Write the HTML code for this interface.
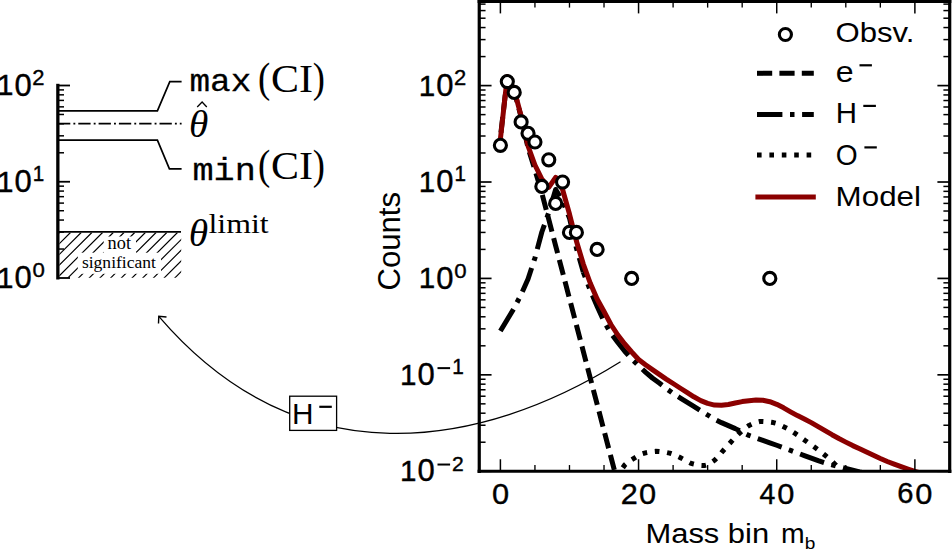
<!DOCTYPE html>
<html><head><meta charset="utf-8"><style>
html,body{margin:0;padding:0;background:#fff;overflow:hidden;}
svg{display:block;}
</style></head><body>
<svg width="952" height="550" viewBox="0 0 952 550">
<rect width="952" height="550" fill="#fff"/>
<line x1="57.85" y1="83.80" x2="57.85" y2="279.50" stroke="#000" stroke-width="3.3"/>
<line x1="57.85" y1="278.00" x2="70.00" y2="278.00" stroke="#000" stroke-width="1.8"/>
<line x1="57.85" y1="181.75" x2="70.00" y2="181.75" stroke="#000" stroke-width="1.8"/>
<line x1="57.85" y1="85.50" x2="70.00" y2="85.50" stroke="#000" stroke-width="1.8"/>
<line x1="57.85" y1="249.03" x2="64.00" y2="249.03" stroke="#000" stroke-width="1.5"/>
<line x1="57.85" y1="232.08" x2="64.00" y2="232.08" stroke="#000" stroke-width="1.5"/>
<line x1="57.85" y1="220.05" x2="64.00" y2="220.05" stroke="#000" stroke-width="1.5"/>
<line x1="57.85" y1="210.72" x2="64.00" y2="210.72" stroke="#000" stroke-width="1.5"/>
<line x1="57.85" y1="203.10" x2="64.00" y2="203.10" stroke="#000" stroke-width="1.5"/>
<line x1="57.85" y1="196.66" x2="64.00" y2="196.66" stroke="#000" stroke-width="1.5"/>
<line x1="57.85" y1="191.08" x2="64.00" y2="191.08" stroke="#000" stroke-width="1.5"/>
<line x1="57.85" y1="186.15" x2="64.00" y2="186.15" stroke="#000" stroke-width="1.5"/>
<line x1="57.85" y1="152.78" x2="64.00" y2="152.78" stroke="#000" stroke-width="1.5"/>
<line x1="57.85" y1="135.83" x2="64.00" y2="135.83" stroke="#000" stroke-width="1.5"/>
<line x1="57.85" y1="123.80" x2="64.00" y2="123.80" stroke="#000" stroke-width="1.5"/>
<line x1="57.85" y1="114.47" x2="64.00" y2="114.47" stroke="#000" stroke-width="1.5"/>
<line x1="57.85" y1="106.85" x2="64.00" y2="106.85" stroke="#000" stroke-width="1.5"/>
<line x1="57.85" y1="100.41" x2="64.00" y2="100.41" stroke="#000" stroke-width="1.5"/>
<line x1="57.85" y1="94.83" x2="64.00" y2="94.83" stroke="#000" stroke-width="1.5"/>
<line x1="57.85" y1="89.90" x2="64.00" y2="89.90" stroke="#000" stroke-width="1.5"/>
<path d="M57.60,110.90 L157.40,110.90 L169.80,81.60 L181.60,81.60" fill="none" stroke="#000" stroke-width="1.7" stroke-linecap="butt" stroke-linejoin="miter"/>
<path d="M57.60,140.20 L157.40,140.20 L169.40,168.90 L181.60,168.90" fill="none" stroke="#000" stroke-width="1.7" stroke-linecap="butt" stroke-linejoin="miter"/>
<path d="M58.00,123.70 L181.60,123.70" fill="none" stroke="#000" stroke-width="1.7" stroke-linecap="butt" stroke-linejoin="round" stroke-dasharray="12.3,3.1,1.9,3.0"/>
<clipPath id="hclip"><rect x="59.4" y="232.4" width="121.8" height="45.4"/></clipPath>
<path d="M49.10,232.5 L-10.90,292.50 M59.80,232.5 L-0.20,292.50 M70.50,232.5 L10.50,292.50 M81.20,232.5 L21.20,292.50 M91.90,232.5 L31.90,292.50 M102.60,232.5 L42.60,292.50 M113.30,232.5 L53.30,292.50 M124.00,232.5 L64.00,292.50 M134.70,232.5 L74.70,292.50 M145.40,232.5 L85.40,292.50 M156.10,232.5 L96.10,292.50 M166.80,232.5 L106.80,292.50 M177.50,232.5 L117.50,292.50 M188.20,232.5 L128.20,292.50 M198.90,232.5 L138.90,292.50 M209.60,232.5 L149.60,292.50 M220.30,232.5 L160.30,292.50 M231.00,232.5 L171.00,292.50 M241.70,232.5 L181.70,292.50 M252.40,232.5 L192.40,292.50 M263.10,232.5 L203.10,292.50 M273.80,232.5 L213.80,292.50 M284.50,232.5 L224.50,292.50 M295.20,232.5 L235.20,292.50 M305.90,232.5 L245.90,292.50 M316.60,232.5 L256.60,292.50 M327.30,232.5 L267.30,292.50 M338.00,232.5 L278.00,292.50 M348.70,232.5 L288.70,292.50 M359.40,232.5 L299.40,292.50 M370.10,232.5 L310.10,292.50 M380.80,232.5 L320.80,292.50" stroke="#000" stroke-width="1.15" clip-path="url(#hclip)"/>
<rect x="103.7" y="236.5" width="32.3" height="17" fill="#fff"/>
<rect x="77.8" y="252.7" width="83.2" height="21.1" fill="#fff"/>
<line x1="57.85" y1="231.80" x2="181.00" y2="231.80" stroke="#000" stroke-width="1.8"/>
<text transform="translate(107.59,249.42) scale(1.0032,1)" font-family="Liberation Serif" font-size="18.26" fill="#000">not</text>
<text transform="translate(81.90,267.99) scale(1.0768,1)" font-family="Liberation Serif" font-size="16.30" fill="#000">significant</text>
<text transform="translate(-2.97,95.40) scale(0.9829,1)" font-family="Liberation Sans" font-size="30.11" fill="#000" stroke="#000" stroke-width="0.407">1</text>
<text transform="translate(14.61,95.59) scale(1.0105,1)" font-family="Liberation Sans" font-size="30.67" fill="#000" stroke="#000" stroke-width="0.396">0</text>
<text transform="translate(32.25,84.80) scale(1.0358,1)" font-family="Liberation Sans" font-size="21.22" fill="#000" stroke="#000" stroke-width="0.386">2</text>
<text transform="translate(-2.97,191.65) scale(0.9829,1)" font-family="Liberation Sans" font-size="30.11" fill="#000" stroke="#000" stroke-width="0.407">1</text>
<text transform="translate(14.61,191.84) scale(1.0105,1)" font-family="Liberation Sans" font-size="30.67" fill="#000" stroke="#000" stroke-width="0.396">0</text>
<text transform="translate(32.81,180.85) scale(0.9624,1)" font-family="Liberation Sans" font-size="21.38" fill="#000" stroke="#000" stroke-width="0.416">1</text>
<text transform="translate(-2.97,287.90) scale(0.9829,1)" font-family="Liberation Sans" font-size="30.11" fill="#000" stroke="#000" stroke-width="0.407">1</text>
<text transform="translate(14.61,288.09) scale(1.0105,1)" font-family="Liberation Sans" font-size="30.67" fill="#000" stroke="#000" stroke-width="0.396">0</text>
<text transform="translate(32.46,277.34) scale(1.0541,1)" font-family="Liberation Sans" font-size="21.06" fill="#000" stroke="#000" stroke-width="0.379">0</text>
<text transform="translate(189.47,90.58) scale(1.0692,1)" font-family="Liberation Mono" font-size="32.15" fill="#000" stroke="#000" stroke-width="0.281">max</text>
<text transform="translate(257.94,91.78) scale(0.8780,1)" font-family="Liberation Serif" font-size="41.98" fill="#000">(</text>
<text transform="translate(270.92,91.60) scale(1.0565,1)" font-family="Liberation Serif" font-size="39.70" fill="#000">CI</text>
<text transform="translate(312.81,91.78) scale(0.8695,1)" font-family="Liberation Serif" font-size="41.98" fill="#000">)</text>
<text transform="translate(192.43,179.50) scale(1.1017,1)" font-family="Liberation Mono" font-size="32.00" fill="#000" stroke="#000" stroke-width="0.272">min</text>
<text transform="translate(257.94,179.33) scale(0.8827,1)" font-family="Liberation Serif" font-size="41.76" fill="#000">(</text>
<text transform="translate(270.92,179.10) scale(1.0565,1)" font-family="Liberation Serif" font-size="39.70" fill="#000">CI</text>
<text transform="translate(312.81,179.33) scale(0.8741,1)" font-family="Liberation Serif" font-size="41.76" fill="#000">)</text>
<text transform="translate(188.94,137.32) scale(1.0254,1)" font-family="Liberation Serif" font-size="38.31" font-style="italic" fill="#000">θ</text>
<path d="M197.20,107.00 L202.10,102.00 L206.80,107.00" fill="none" stroke="#000" stroke-width="1.3" stroke-linecap="butt" stroke-linejoin="miter"/>
<text transform="translate(188.72,246.22) scale(1.0316,1)" font-family="Liberation Serif" font-size="38.31" font-style="italic" fill="#000">θ</text>
<text transform="translate(208.46,232.93) scale(1.1715,1)" font-family="Liberation Serif" font-size="27.23" fill="#000">limit</text>
<clipPath id="ax"><rect x="479.25" y="1.4" width="470.45000000000005" height="469.85"/></clipPath>
<g clip-path="url(#ax)">
<path d="M500.40,137.50 L507.31,77.00 L514.22,91.00 L521.12,117.00 L528.03,147.70 L534.94,170.00 L541.85,193.00 L548.76,219.40 L555.66,245.80 L562.57,272.20 L569.48,298.60 L576.39,325.00 L583.30,351.40 L590.20,377.80 L597.11,404.20 L604.02,430.60 L610.93,457.00 L617.84,483.40 L624.74,509.80" fill="none" stroke="#000" stroke-width="5.0" stroke-linecap="butt" stroke-linejoin="round" stroke-dasharray="15.6,6.8" stroke-dashoffset="17.52"/>
<path d="M500.40,331.00 L507.31,319.50 L514.22,308.00 L521.12,294.50 L528.03,279.00 L534.94,258.00 L541.85,232.00 L548.76,212.50 L555.66,189.50 L562.57,201.00 L569.48,218.00 L576.39,248.00 L583.30,272.00" fill="none" stroke="#000" stroke-width="5.0" stroke-linecap="butt" stroke-linejoin="round" stroke-dasharray="25.4,7.6,4.5,7.6"/>
<path d="M583.30,272.00 L590.20,290.26 L597.11,306.21 L604.02,321.55 L610.93,333.27 L617.84,342.52 L624.74,351.24 L631.65,358.94 L638.56,365.66 L645.47,372.08 L652.38,378.00 L659.28,383.07 L666.19,388.42 L673.10,393.47 L680.01,397.84 L686.92,402.13 L693.82,406.36 L700.73,410.67 L707.64,415.00 L714.55,419.27 L721.46,422.65 L728.36,425.60 L735.27,428.62 L742.18,432.08 L749.09,435.48 L756.00,437.90 L762.90,440.34 L769.81,442.79 L776.72,445.27 L783.63,447.79 L790.54,450.37 L797.44,452.97 L804.35,455.55 L811.26,458.13 L818.17,460.68 L825.08,462.93 L831.98,464.90 L838.89,466.72 L845.80,468.50 L852.71,470.29 L859.62,472.00 L866.52,473.53 L873.43,474.96 L880.34,476.40 L887.25,478.00 L894.16,479.79 L901.06,481.73 L907.97,483.81 L914.88,486.00" fill="none" stroke="#000" stroke-width="5.0" stroke-linecap="butt" stroke-linejoin="round" stroke-dasharray="25.4,7.6,4.5,7.6" stroke-dashoffset="20.04"/>
<path d="M607.47,490.00 L610.93,485.00 L614.38,480.00 L617.84,475.06 L621.29,469.88 L624.74,464.99 L628.20,462.02 L631.65,459.70 L635.11,457.60 L638.56,455.56 L642.01,453.86 L645.47,452.84 L648.92,452.14 L652.38,451.61 L655.83,451.32 L659.28,451.38 L662.74,451.78 L666.19,452.40 L669.65,453.13 L673.10,454.27 L676.55,455.81 L680.01,457.48 L683.46,459.27 L686.92,461.32 L690.37,463.05 L693.82,464.04 L697.28,464.85 L700.73,465.42 L704.19,465.58 L707.64,464.64 L711.09,462.68 L714.55,460.30 L718.00,456.92 L721.46,452.61 L724.91,448.66 L728.36,444.81 L731.82,441.06 L735.27,437.30 L738.73,433.78 L742.18,430.67 L745.63,427.74 L749.09,425.41 L752.54,423.82 L756.00,422.45 L759.45,421.61 L762.90,421.53 L766.36,421.75 L769.81,422.12 L773.27,422.60 L776.72,423.50 L780.17,424.97 L783.63,426.66 L787.08,428.43 L790.54,430.48 L793.99,432.70 L797.44,434.99 L800.90,437.46 L804.35,439.96 L807.81,442.38 L811.26,444.78 L814.71,447.24 L818.17,449.82 L821.62,452.50 L825.08,455.31 L828.53,458.24 L831.98,461.33 L835.44,464.71 L838.89,468.63 L842.35,472.53 L845.80,476.34 L849.25,480.00 L852.71,483.48 L856.16,486.81 L859.62,490.00" fill="none" stroke="#000" stroke-width="5.0" stroke-linecap="butt" stroke-linejoin="round" stroke-dasharray="4.6,7.75" stroke-dashoffset="10.01"/>
<path d="M500.40,139.00 L507.31,76.50 L514.22,90.00 L521.12,116.00 L528.03,146.00 L534.94,165.00 L541.85,179.00 L548.76,187.40 L555.66,177.30 L562.57,189.50 L569.48,214.00 L576.39,241.00 L583.30,264.00 L590.20,283.00 L597.11,299.00 L604.02,311.50 L610.93,324.50 L617.84,335.00 L624.74,344.00 L631.65,352.00 L638.56,359.50 L645.47,364.80 L652.38,369.60 L659.28,374.40 L666.19,379.10 L673.10,383.50 L680.01,388.00 L686.92,392.30 L693.82,396.80 L700.73,400.60 L707.64,403.40 L714.55,405.10 L721.46,405.30 L728.36,404.50 L735.27,403.00 L742.18,401.60 L749.09,400.70 L756.00,400.10 L762.90,400.30 L769.81,401.70 L776.72,404.30 L783.63,407.80 L790.54,411.80 L797.44,415.60 L804.35,419.00 L811.26,422.60 L818.17,426.60 L825.08,430.70 L831.98,434.70 L838.89,438.50 L845.80,442.10 L852.71,445.60 L859.62,448.70 L866.52,452.00 L873.43,455.30 L880.34,458.50 L887.25,461.50 L894.16,464.10 L901.06,466.60 L907.97,469.00 L914.88,471.30 L921.79,473.50 L928.70,475.70 L935.60,477.80 L942.51,479.80 L949.42,481.80" fill="none" stroke="#8b0000" stroke-width="5.0" stroke-linecap="butt" stroke-linejoin="round"/>
<circle cx="500.40" cy="145.35" r="6.05" fill="#fff" stroke="#000" stroke-width="3.1"/>
<circle cx="507.31" cy="81.61" r="6.05" fill="#fff" stroke="#000" stroke-width="3.1"/>
<circle cx="514.22" cy="92.40" r="6.05" fill="#fff" stroke="#000" stroke-width="3.1"/>
<circle cx="521.12" cy="121.92" r="6.05" fill="#fff" stroke="#000" stroke-width="3.1"/>
<circle cx="528.03" cy="133.31" r="6.05" fill="#fff" stroke="#000" stroke-width="3.1"/>
<circle cx="534.94" cy="142.00" r="6.05" fill="#fff" stroke="#000" stroke-width="3.1"/>
<circle cx="541.85" cy="186.42" r="6.05" fill="#fff" stroke="#000" stroke-width="3.1"/>
<circle cx="548.76" cy="159.79" r="6.05" fill="#fff" stroke="#000" stroke-width="3.1"/>
<circle cx="555.66" cy="203.40" r="6.05" fill="#fff" stroke="#000" stroke-width="3.1"/>
<circle cx="562.57" cy="182.01" r="6.05" fill="#fff" stroke="#000" stroke-width="3.1"/>
<circle cx="569.48" cy="232.42" r="6.05" fill="#fff" stroke="#000" stroke-width="3.1"/>
<circle cx="576.39" cy="232.42" r="6.05" fill="#fff" stroke="#000" stroke-width="3.1"/>
<circle cx="597.11" cy="249.40" r="6.05" fill="#fff" stroke="#000" stroke-width="3.1"/>
<circle cx="631.65" cy="278.42" r="6.05" fill="#fff" stroke="#000" stroke-width="3.1"/>
<circle cx="769.81" cy="278.42" r="6.05" fill="#fff" stroke="#000" stroke-width="3.1"/>
</g>
<line x1="479.25" y1="-0.20" x2="479.25" y2="472.90" stroke="#000" stroke-width="3.2"/>
<line x1="949.70" y1="-0.20" x2="949.70" y2="472.90" stroke="#000" stroke-width="3.2"/>
<line x1="477.60" y1="471.25" x2="951.35" y2="471.25" stroke="#000" stroke-width="3.2"/>
<line x1="477.60" y1="1.40" x2="951.35" y2="1.40" stroke="#000" stroke-width="3.2"/>
<line x1="500.40" y1="471.25" x2="500.40" y2="459.25" stroke="#000" stroke-width="1.5"/>
<line x1="500.40" y1="1.40" x2="500.40" y2="13.40" stroke="#000" stroke-width="1.5"/>
<line x1="534.94" y1="471.25" x2="534.94" y2="465.05" stroke="#000" stroke-width="1.35"/>
<line x1="534.94" y1="1.40" x2="534.94" y2="7.60" stroke="#000" stroke-width="1.35"/>
<line x1="569.48" y1="471.25" x2="569.48" y2="465.05" stroke="#000" stroke-width="1.35"/>
<line x1="569.48" y1="1.40" x2="569.48" y2="7.60" stroke="#000" stroke-width="1.35"/>
<line x1="604.02" y1="471.25" x2="604.02" y2="465.05" stroke="#000" stroke-width="1.35"/>
<line x1="604.02" y1="1.40" x2="604.02" y2="7.60" stroke="#000" stroke-width="1.35"/>
<line x1="638.56" y1="471.25" x2="638.56" y2="459.25" stroke="#000" stroke-width="1.5"/>
<line x1="638.56" y1="1.40" x2="638.56" y2="13.40" stroke="#000" stroke-width="1.5"/>
<line x1="673.10" y1="471.25" x2="673.10" y2="465.05" stroke="#000" stroke-width="1.35"/>
<line x1="673.10" y1="1.40" x2="673.10" y2="7.60" stroke="#000" stroke-width="1.35"/>
<line x1="707.64" y1="471.25" x2="707.64" y2="465.05" stroke="#000" stroke-width="1.35"/>
<line x1="707.64" y1="1.40" x2="707.64" y2="7.60" stroke="#000" stroke-width="1.35"/>
<line x1="742.18" y1="471.25" x2="742.18" y2="465.05" stroke="#000" stroke-width="1.35"/>
<line x1="742.18" y1="1.40" x2="742.18" y2="7.60" stroke="#000" stroke-width="1.35"/>
<line x1="776.72" y1="471.25" x2="776.72" y2="459.25" stroke="#000" stroke-width="1.5"/>
<line x1="776.72" y1="1.40" x2="776.72" y2="13.40" stroke="#000" stroke-width="1.5"/>
<line x1="811.26" y1="471.25" x2="811.26" y2="465.05" stroke="#000" stroke-width="1.35"/>
<line x1="811.26" y1="1.40" x2="811.26" y2="7.60" stroke="#000" stroke-width="1.35"/>
<line x1="845.80" y1="471.25" x2="845.80" y2="465.05" stroke="#000" stroke-width="1.35"/>
<line x1="845.80" y1="1.40" x2="845.80" y2="7.60" stroke="#000" stroke-width="1.35"/>
<line x1="880.34" y1="471.25" x2="880.34" y2="465.05" stroke="#000" stroke-width="1.35"/>
<line x1="880.34" y1="1.40" x2="880.34" y2="7.60" stroke="#000" stroke-width="1.35"/>
<line x1="914.88" y1="471.25" x2="914.88" y2="459.25" stroke="#000" stroke-width="1.5"/>
<line x1="914.88" y1="1.40" x2="914.88" y2="13.40" stroke="#000" stroke-width="1.5"/>
<line x1="479.25" y1="471.24" x2="491.55" y2="471.24" stroke="#000" stroke-width="1.7"/>
<line x1="949.70" y1="471.24" x2="937.40" y2="471.24" stroke="#000" stroke-width="1.7"/>
<line x1="479.25" y1="374.83" x2="491.55" y2="374.83" stroke="#000" stroke-width="1.7"/>
<line x1="949.70" y1="374.83" x2="937.40" y2="374.83" stroke="#000" stroke-width="1.7"/>
<line x1="479.25" y1="278.42" x2="491.55" y2="278.42" stroke="#000" stroke-width="1.7"/>
<line x1="949.70" y1="278.42" x2="937.40" y2="278.42" stroke="#000" stroke-width="1.7"/>
<line x1="479.25" y1="182.01" x2="491.55" y2="182.01" stroke="#000" stroke-width="1.7"/>
<line x1="949.70" y1="182.01" x2="937.40" y2="182.01" stroke="#000" stroke-width="1.7"/>
<line x1="479.25" y1="85.60" x2="491.55" y2="85.60" stroke="#000" stroke-width="1.7"/>
<line x1="949.70" y1="85.60" x2="937.40" y2="85.60" stroke="#000" stroke-width="1.7"/>
<line x1="479.25" y1="442.22" x2="485.55" y2="442.22" stroke="#000" stroke-width="1.5"/>
<line x1="949.70" y1="442.22" x2="943.40" y2="442.22" stroke="#000" stroke-width="1.5"/>
<line x1="479.25" y1="425.24" x2="485.55" y2="425.24" stroke="#000" stroke-width="1.5"/>
<line x1="949.70" y1="425.24" x2="943.40" y2="425.24" stroke="#000" stroke-width="1.5"/>
<line x1="479.25" y1="413.20" x2="485.55" y2="413.20" stroke="#000" stroke-width="1.5"/>
<line x1="949.70" y1="413.20" x2="943.40" y2="413.20" stroke="#000" stroke-width="1.5"/>
<line x1="479.25" y1="403.85" x2="485.55" y2="403.85" stroke="#000" stroke-width="1.5"/>
<line x1="949.70" y1="403.85" x2="943.40" y2="403.85" stroke="#000" stroke-width="1.5"/>
<line x1="479.25" y1="396.22" x2="485.55" y2="396.22" stroke="#000" stroke-width="1.5"/>
<line x1="949.70" y1="396.22" x2="943.40" y2="396.22" stroke="#000" stroke-width="1.5"/>
<line x1="479.25" y1="389.76" x2="485.55" y2="389.76" stroke="#000" stroke-width="1.5"/>
<line x1="949.70" y1="389.76" x2="943.40" y2="389.76" stroke="#000" stroke-width="1.5"/>
<line x1="479.25" y1="384.17" x2="485.55" y2="384.17" stroke="#000" stroke-width="1.5"/>
<line x1="949.70" y1="384.17" x2="943.40" y2="384.17" stroke="#000" stroke-width="1.5"/>
<line x1="479.25" y1="379.24" x2="485.55" y2="379.24" stroke="#000" stroke-width="1.5"/>
<line x1="949.70" y1="379.24" x2="943.40" y2="379.24" stroke="#000" stroke-width="1.5"/>
<line x1="479.25" y1="345.81" x2="485.55" y2="345.81" stroke="#000" stroke-width="1.5"/>
<line x1="949.70" y1="345.81" x2="943.40" y2="345.81" stroke="#000" stroke-width="1.5"/>
<line x1="479.25" y1="328.83" x2="485.55" y2="328.83" stroke="#000" stroke-width="1.5"/>
<line x1="949.70" y1="328.83" x2="943.40" y2="328.83" stroke="#000" stroke-width="1.5"/>
<line x1="479.25" y1="316.79" x2="485.55" y2="316.79" stroke="#000" stroke-width="1.5"/>
<line x1="949.70" y1="316.79" x2="943.40" y2="316.79" stroke="#000" stroke-width="1.5"/>
<line x1="479.25" y1="307.44" x2="485.55" y2="307.44" stroke="#000" stroke-width="1.5"/>
<line x1="949.70" y1="307.44" x2="943.40" y2="307.44" stroke="#000" stroke-width="1.5"/>
<line x1="479.25" y1="299.81" x2="485.55" y2="299.81" stroke="#000" stroke-width="1.5"/>
<line x1="949.70" y1="299.81" x2="943.40" y2="299.81" stroke="#000" stroke-width="1.5"/>
<line x1="479.25" y1="293.35" x2="485.55" y2="293.35" stroke="#000" stroke-width="1.5"/>
<line x1="949.70" y1="293.35" x2="943.40" y2="293.35" stroke="#000" stroke-width="1.5"/>
<line x1="479.25" y1="287.76" x2="485.55" y2="287.76" stroke="#000" stroke-width="1.5"/>
<line x1="949.70" y1="287.76" x2="943.40" y2="287.76" stroke="#000" stroke-width="1.5"/>
<line x1="479.25" y1="282.83" x2="485.55" y2="282.83" stroke="#000" stroke-width="1.5"/>
<line x1="949.70" y1="282.83" x2="943.40" y2="282.83" stroke="#000" stroke-width="1.5"/>
<line x1="479.25" y1="249.40" x2="485.55" y2="249.40" stroke="#000" stroke-width="1.5"/>
<line x1="949.70" y1="249.40" x2="943.40" y2="249.40" stroke="#000" stroke-width="1.5"/>
<line x1="479.25" y1="232.42" x2="485.55" y2="232.42" stroke="#000" stroke-width="1.5"/>
<line x1="949.70" y1="232.42" x2="943.40" y2="232.42" stroke="#000" stroke-width="1.5"/>
<line x1="479.25" y1="220.38" x2="485.55" y2="220.38" stroke="#000" stroke-width="1.5"/>
<line x1="949.70" y1="220.38" x2="943.40" y2="220.38" stroke="#000" stroke-width="1.5"/>
<line x1="479.25" y1="211.03" x2="485.55" y2="211.03" stroke="#000" stroke-width="1.5"/>
<line x1="949.70" y1="211.03" x2="943.40" y2="211.03" stroke="#000" stroke-width="1.5"/>
<line x1="479.25" y1="203.40" x2="485.55" y2="203.40" stroke="#000" stroke-width="1.5"/>
<line x1="949.70" y1="203.40" x2="943.40" y2="203.40" stroke="#000" stroke-width="1.5"/>
<line x1="479.25" y1="196.94" x2="485.55" y2="196.94" stroke="#000" stroke-width="1.5"/>
<line x1="949.70" y1="196.94" x2="943.40" y2="196.94" stroke="#000" stroke-width="1.5"/>
<line x1="479.25" y1="191.35" x2="485.55" y2="191.35" stroke="#000" stroke-width="1.5"/>
<line x1="949.70" y1="191.35" x2="943.40" y2="191.35" stroke="#000" stroke-width="1.5"/>
<line x1="479.25" y1="186.42" x2="485.55" y2="186.42" stroke="#000" stroke-width="1.5"/>
<line x1="949.70" y1="186.42" x2="943.40" y2="186.42" stroke="#000" stroke-width="1.5"/>
<line x1="479.25" y1="152.99" x2="485.55" y2="152.99" stroke="#000" stroke-width="1.5"/>
<line x1="949.70" y1="152.99" x2="943.40" y2="152.99" stroke="#000" stroke-width="1.5"/>
<line x1="479.25" y1="136.01" x2="485.55" y2="136.01" stroke="#000" stroke-width="1.5"/>
<line x1="949.70" y1="136.01" x2="943.40" y2="136.01" stroke="#000" stroke-width="1.5"/>
<line x1="479.25" y1="123.97" x2="485.55" y2="123.97" stroke="#000" stroke-width="1.5"/>
<line x1="949.70" y1="123.97" x2="943.40" y2="123.97" stroke="#000" stroke-width="1.5"/>
<line x1="479.25" y1="114.62" x2="485.55" y2="114.62" stroke="#000" stroke-width="1.5"/>
<line x1="949.70" y1="114.62" x2="943.40" y2="114.62" stroke="#000" stroke-width="1.5"/>
<line x1="479.25" y1="106.99" x2="485.55" y2="106.99" stroke="#000" stroke-width="1.5"/>
<line x1="949.70" y1="106.99" x2="943.40" y2="106.99" stroke="#000" stroke-width="1.5"/>
<line x1="479.25" y1="100.53" x2="485.55" y2="100.53" stroke="#000" stroke-width="1.5"/>
<line x1="949.70" y1="100.53" x2="943.40" y2="100.53" stroke="#000" stroke-width="1.5"/>
<line x1="479.25" y1="94.94" x2="485.55" y2="94.94" stroke="#000" stroke-width="1.5"/>
<line x1="949.70" y1="94.94" x2="943.40" y2="94.94" stroke="#000" stroke-width="1.5"/>
<line x1="479.25" y1="90.01" x2="485.55" y2="90.01" stroke="#000" stroke-width="1.5"/>
<line x1="949.70" y1="90.01" x2="943.40" y2="90.01" stroke="#000" stroke-width="1.5"/>
<line x1="479.25" y1="56.58" x2="485.55" y2="56.58" stroke="#000" stroke-width="1.5"/>
<line x1="949.70" y1="56.58" x2="943.40" y2="56.58" stroke="#000" stroke-width="1.5"/>
<line x1="479.25" y1="39.60" x2="485.55" y2="39.60" stroke="#000" stroke-width="1.5"/>
<line x1="949.70" y1="39.60" x2="943.40" y2="39.60" stroke="#000" stroke-width="1.5"/>
<line x1="479.25" y1="27.56" x2="485.55" y2="27.56" stroke="#000" stroke-width="1.5"/>
<line x1="949.70" y1="27.56" x2="943.40" y2="27.56" stroke="#000" stroke-width="1.5"/>
<line x1="479.25" y1="18.21" x2="485.55" y2="18.21" stroke="#000" stroke-width="1.5"/>
<line x1="949.70" y1="18.21" x2="943.40" y2="18.21" stroke="#000" stroke-width="1.5"/>
<line x1="479.25" y1="10.58" x2="485.55" y2="10.58" stroke="#000" stroke-width="1.5"/>
<line x1="949.70" y1="10.58" x2="943.40" y2="10.58" stroke="#000" stroke-width="1.5"/>
<line x1="479.25" y1="4.12" x2="485.55" y2="4.12" stroke="#000" stroke-width="1.5"/>
<line x1="949.70" y1="4.12" x2="943.40" y2="4.12" stroke="#000" stroke-width="1.5"/>
<text transform="translate(418.78,95.50) scale(0.9829,1)" font-family="Liberation Sans" font-size="30.11" fill="#000" stroke="#000" stroke-width="0.407">1</text>
<text transform="translate(436.36,95.69) scale(1.0105,1)" font-family="Liberation Sans" font-size="30.67" fill="#000" stroke="#000" stroke-width="0.396">0</text>
<text transform="translate(454.00,84.90) scale(1.0358,1)" font-family="Liberation Sans" font-size="21.22" fill="#000" stroke="#000" stroke-width="0.386">2</text>
<text transform="translate(418.78,191.91) scale(0.9829,1)" font-family="Liberation Sans" font-size="30.11" fill="#000" stroke="#000" stroke-width="0.407">1</text>
<text transform="translate(436.36,192.10) scale(1.0105,1)" font-family="Liberation Sans" font-size="30.67" fill="#000" stroke="#000" stroke-width="0.396">0</text>
<text transform="translate(454.56,181.11) scale(0.9624,1)" font-family="Liberation Sans" font-size="21.38" fill="#000" stroke="#000" stroke-width="0.416">1</text>
<text transform="translate(418.78,288.32) scale(0.9829,1)" font-family="Liberation Sans" font-size="30.11" fill="#000" stroke="#000" stroke-width="0.407">1</text>
<text transform="translate(436.36,288.51) scale(1.0105,1)" font-family="Liberation Sans" font-size="30.67" fill="#000" stroke="#000" stroke-width="0.396">0</text>
<text transform="translate(454.21,277.76) scale(1.0541,1)" font-family="Liberation Sans" font-size="21.06" fill="#000" stroke="#000" stroke-width="0.379">0</text>
<text transform="translate(399.88,384.73) scale(0.9829,1)" font-family="Liberation Sans" font-size="30.11" fill="#000" stroke="#000" stroke-width="0.407">1</text>
<text transform="translate(417.46,384.92) scale(1.0105,1)" font-family="Liberation Sans" font-size="30.67" fill="#000" stroke="#000" stroke-width="0.396">0</text>
<rect x="437.50" y="367.13" width="12.6" height="2.0"/>
<text transform="translate(452.34,374.23) scale(0.9538,1)" font-family="Liberation Sans" font-size="21.82" fill="#000" stroke="#000" stroke-width="0.419">1</text>
<text transform="translate(399.88,481.14) scale(0.9829,1)" font-family="Liberation Sans" font-size="30.11" fill="#000" stroke="#000" stroke-width="0.407">1</text>
<text transform="translate(417.46,481.33) scale(1.0105,1)" font-family="Liberation Sans" font-size="30.67" fill="#000" stroke="#000" stroke-width="0.396">0</text>
<rect x="437.50" y="463.54" width="12.6" height="2.0"/>
<text transform="translate(452.05,470.74) scale(1.0149,1)" font-family="Liberation Sans" font-size="20.79" fill="#000" stroke="#000" stroke-width="0.394">2</text>
<text transform="translate(491.97,503.60) scale(1.0372,1)" font-family="Liberation Sans" font-size="29.68" fill="#000" stroke="#000" stroke-width="0.386">0</text>
<text transform="translate(620.68,503.60) scale(1.0294,1)" font-family="Liberation Sans" font-size="29.68" fill="#000" stroke="#000" stroke-width="0.389">2</text>
<text transform="translate(638.98,503.60) scale(1.0372,1)" font-family="Liberation Sans" font-size="29.68" fill="#000" stroke="#000" stroke-width="0.386">0</text>
<text transform="translate(759.48,503.60) scale(0.9471,1)" font-family="Liberation Sans" font-size="30.11" fill="#000" stroke="#000" stroke-width="0.422">4</text>
<text transform="translate(777.14,503.60) scale(1.0372,1)" font-family="Liberation Sans" font-size="29.68" fill="#000" stroke="#000" stroke-width="0.386">0</text>
<text transform="translate(897.32,503.31) scale(0.9976,1)" font-family="Liberation Sans" font-size="29.26" fill="#000" stroke="#000" stroke-width="0.401">6</text>
<text transform="translate(915.30,503.60) scale(1.0372,1)" font-family="Liberation Sans" font-size="29.68" fill="#000" stroke="#000" stroke-width="0.386">0</text>
<text transform="translate(645.45,542.93) scale(1.1305,1)" font-family="Liberation Sans" font-size="27.35" fill="#000">Mass bin</text>
<text transform="translate(780.98,543.20) scale(0.9987,1)" font-family="Liberation Sans" font-size="28.47" fill="#000">m</text>
<text transform="translate(804.66,548.63) scale(1.0974,1)" font-family="Liberation Sans" font-size="17.41" fill="#000">b</text>
<text transform="translate(400.29,290.56) rotate(-90) scale(1.0201,1)" font-family="Liberation Sans" font-size="30.53">Counts</text>
<circle cx="785.4" cy="34.5" r="6.05" fill="#fff" stroke="#000" stroke-width="3.1"/>
<text transform="translate(835.52,42.12) scale(1.0998,1)" font-family="Liberation Sans" font-size="28.30" fill="#000">Obsv.</text>
<path d="M757.00,73.30 L813.80,73.30" fill="none" stroke="#000" stroke-width="5.0" stroke-linecap="butt" stroke-linejoin="round" stroke-dasharray="15.2,7.2"/>
<text transform="translate(835.63,82.40) scale(1.0596,1)" font-family="Liberation Sans" font-size="30.32" fill="#000">e</text>
<rect x="859.5" y="64.2" width="12.4" height="2.2"/>
<path d="M757.00,114.50 L813.80,114.50" fill="none" stroke="#000" stroke-width="5.0" stroke-linecap="butt" stroke-linejoin="round" stroke-dasharray="25.4,7.6,4.5,7.6"/>
<text transform="translate(835.77,123.40) scale(0.9723,1)" font-family="Liberation Sans" font-size="30.25" fill="#000">H</text>
<rect x="863.3" y="104.8" width="12.6" height="2.2"/>
<path d="M757.00,155.00 L812.50,155.00" fill="none" stroke="#000" stroke-width="5.0" stroke-linecap="butt" stroke-linejoin="round" stroke-dasharray="4.6,7.8"/>
<text transform="translate(835.76,164.51) scale(0.9615,1)" font-family="Liberation Sans" font-size="29.26" fill="#000">O</text>
<rect x="864.4" y="146.3" width="12.4" height="2.2"/>
<path d="M755.40,197.00 L815.80,197.00" fill="none" stroke="#8b0000" stroke-width="5.0" stroke-linecap="butt" stroke-linejoin="round"/>
<text transform="translate(835.61,206.43) scale(1.1460,1)" font-family="Liberation Sans" font-size="27.35" fill="#000">Model</text>
<path d="M620.5,361.8 C480.48,449.18 299.55,480.27 158.8,316.3" fill="none" stroke="#000" stroke-width="1.3"/>
<path d="M166.50,317.00 L158.80,316.30 L158.50,323.50" fill="none" stroke="#000" stroke-width="1.4" stroke-linecap="butt" stroke-linejoin="miter"/>
<rect x="289.7" y="396.2" width="46.9" height="34.2" fill="#fff" stroke="#000" stroke-width="1.3"/>
<text transform="translate(291.94,423.60) scale(1.0035,1)" font-family="Liberation Sans" font-size="29.67" fill="#000">H</text>
<rect x="319.3" y="405.7" width="12.5" height="2.2"/>
</svg>
</body></html>
